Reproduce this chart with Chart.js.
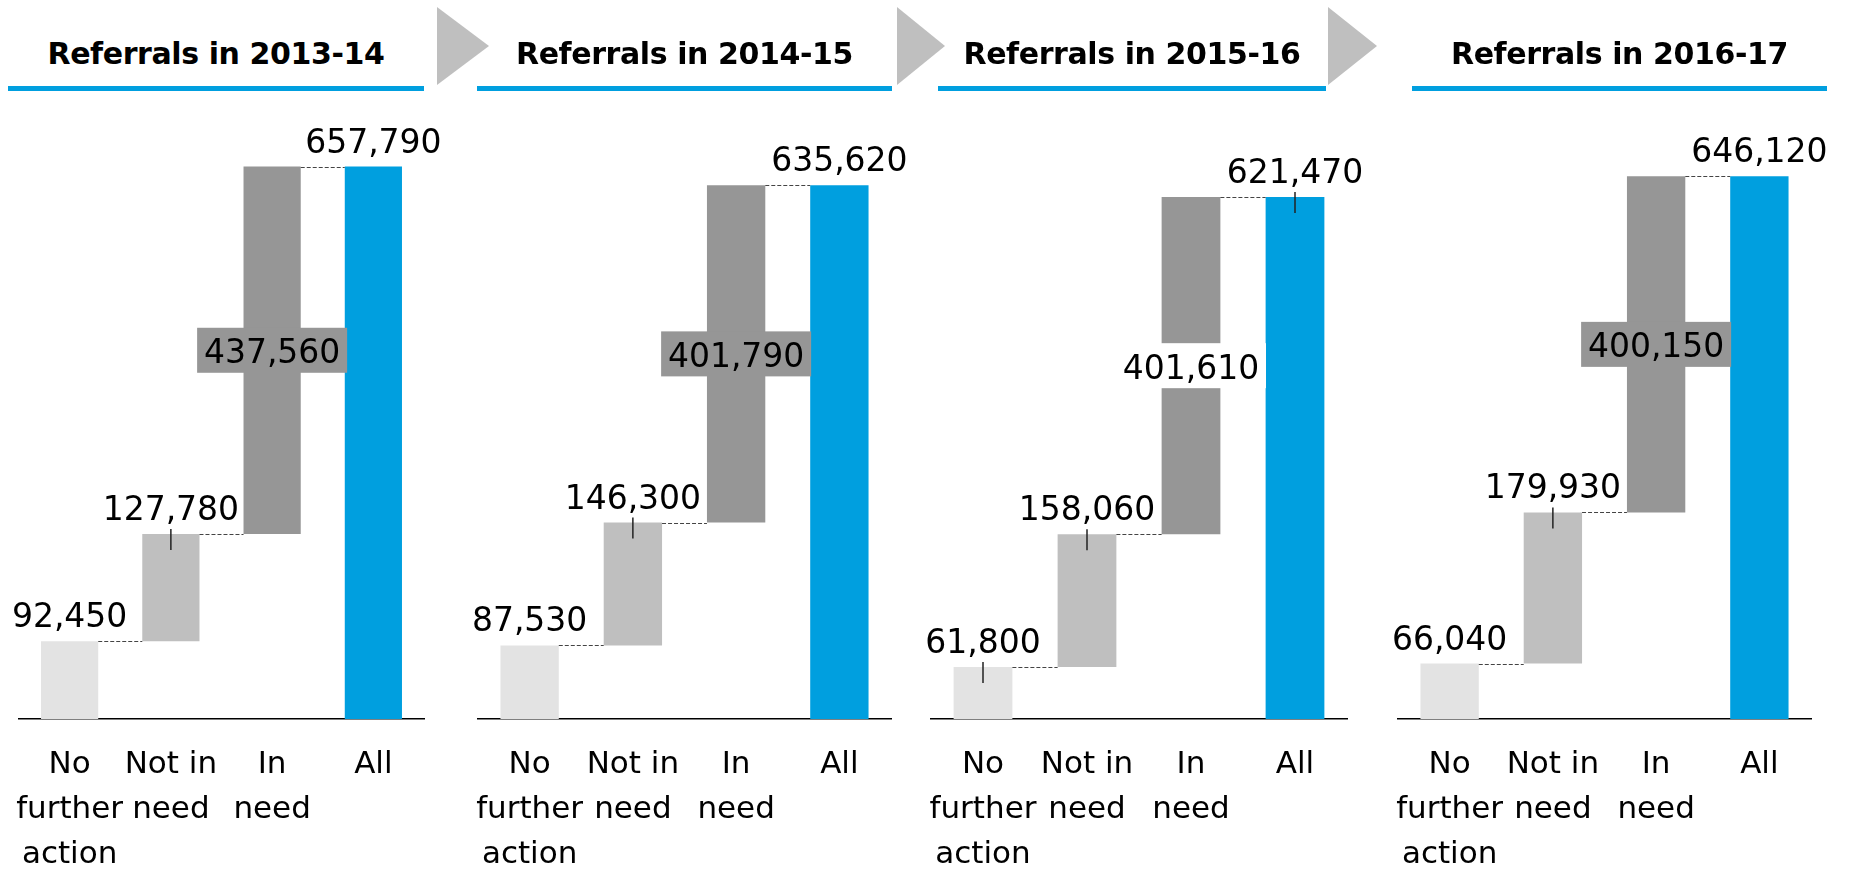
<!DOCTYPE html>
<html>
<head>
<meta charset="utf-8">
<script src="https://cdn.jsdelivr.net/npm/chart.js@4.4.1/dist/chart.umd.min.js"></script>
<style>
  html, body { margin: 0; padding: 0; background: #fff; }
  body { width: 1850px; height: 870px; position: relative; overflow: hidden; font-family: "DejaVu Sans", sans-serif; }
  canvas { position: absolute; left: 0; top: 0; }
  .head { position: absolute; top: 37px; text-align: center; font-weight: bold; font-size: 30px; line-height: 34px; letter-spacing: -0.4px; color: #000; white-space: nowrap; }
  .rule { position: absolute; top: 86px; height: 5px; background: #009fdf; }
  .arrow { position: absolute; top: 7px; width: 0; height: 0; border-top: 39.5px solid transparent; border-bottom: 39.5px solid transparent; border-left-style: solid; border-left-color: #bfbfbf; }
</style>
</head>
<body>
<script>
// data
const years = ["2013-14", "2014-15", "2015-16", "2016-17"];
const categories = [["No", "further", "action"], ["Not in", "need"], ["In", "need"], "All"];
const noFurtherAction = [92450, 87530, 61800, 66040];
const notInNeed = [127780, 146300, 158060, 179930];
const inNeed = [437560, 401790, 401610, 400150];
const allReferrals = [657790, 635620, 621470, 646120];

// layout of the four panels
const panels = [
  { left: 19, right: 424, ruleL: 8, ruleR: 424, boxColor: "#969696", leaders: [false, true, false, false] },
  { left: 478, right: 891, ruleL: 477, ruleR: 892, boxColor: "#969696", leaders: [false, true, false, false] },
  { left: 931, right: 1347, ruleL: 938, ruleR: 1326, boxColor: "#ffffff", leaders: [true, true, false, true] },
  { left: 1398, right: 1811, ruleL: 1412, ruleR: 1827, boxColor: "#969696", leaders: [false, true, false, false] },
];
const arrows = [{ x: 437, w: 52 }, { x: 897, w: 48 }, { x: 1328, w: 49 }];
const barColors = ["#e3e3e3", "#bfbfbf", "#969696", "#009fdf"];

const W = 1850, H = 870;

const waterfallMarks = {
  id: "waterfallMarks",
  afterDatasetsDraw(chart, args, opts) {
    const ctx = chart.ctx;
    const bars = chart.getDatasetMeta(0).data;
    const values = chart.data.datasets[0].data;
    ctx.save();

    // dashed connectors between steps
    ctx.strokeStyle = "#444";
    ctx.lineWidth = 1;
    ctx.setLineDash([4, 2]);
    for (let i = 0; i < bars.length - 1; i++) {
      const a = bars[i].getProps(["x", "y", "width"], true);
      const b = bars[i + 1].getProps(["x", "width"], true);
      const yy = Math.round(a.y) + 0.5;
      ctx.beginPath();
      ctx.moveTo(a.x + a.width / 2, yy);
      ctx.lineTo(b.x - b.width / 2, yy);
      ctx.stroke();
    }
    ctx.setLineDash([]);

    ctx.font = '33px "DejaVu Sans"';
    ctx.textAlign = "center";
    ctx.textBaseline = "alphabetic";
    bars.forEach((bar, i) => {
      const p = bar.getProps(["x", "y", "base", "width"], true);
      const text = (values[i][1] - values[i][0]).toLocaleString("en-US");
      const top = Math.min(p.y, p.base);
      const bottom = Math.max(p.y, p.base);
      if (i === 2) {
        const cy = (top + bottom) / 2;
        ctx.fillStyle = opts.boxColor;
        ctx.fillRect(p.x - 75, cy - 22.5, 150, 45);
        ctx.fillStyle = "#000";
        ctx.fillText(text, p.x, cy + 13);
      } else {
        ctx.fillStyle = "#000";
        ctx.fillText(text, p.x, top - 14);
        if (opts.leaders[i]) {
          ctx.strokeStyle = "#222";
          ctx.lineWidth = 1.5;
          ctx.beginPath();
          ctx.moveTo(p.x, top - 5);
          ctx.lineTo(p.x, top + 16);
          ctx.stroke();
        }
      }
    });
    ctx.restore();
  }
};

panels.forEach((panel, k) => {
  // header
  const head = document.createElement("div");
  head.className = "head";
  head.style.left = panel.ruleL + "px";
  head.style.width = (panel.ruleR - panel.ruleL) + "px";
  head.textContent = "Referrals in " + years[k];
  document.body.appendChild(head);
  const rule = document.createElement("div");
  rule.className = "rule";
  rule.style.left = panel.ruleL + "px";
  rule.style.width = (panel.ruleR - panel.ruleL) + "px";
  document.body.appendChild(rule);

  const canvas = document.createElement("canvas");
  canvas.width = W;
  canvas.height = H;
  document.body.appendChild(canvas);

  const a = noFurtherAction[k];
  const b = a + notInNeed[k];
  const c = b + inNeed[k];
  new Chart(canvas, {
    type: "bar",
    data: {
      labels: categories,
      datasets: [{
        data: [[0, a], [a, b], [b, c], [0, allReferrals[k]]],
        backgroundColor: barColors,
        borderWidth: 0,
        categoryPercentage: 1,
        barPercentage: 0.565,
      }],
    },
    options: {
      responsive: false,
      animation: false,
      events: [],
      layout: { padding: { left: panel.left, right: W - panel.right, top: 100, bottom: 0 } },
      plugins: {
        legend: { display: false },
        tooltip: { enabled: false },
        waterfallMarks: { boxColor: panel.boxColor, leaders: panel.leaders },
      },
      scales: {
        x: {
          grid: { display: false, drawTicks: false },
          border: { display: true, color: "#000", width: 1.5 },
          ticks: {
            color: "#000",
            font: { family: "DejaVu Sans", size: 31, lineHeight: 1.44 },
            padding: 24,
            maxRotation: 0,
            autoSkip: false,
          },
          afterFit: (scale) => {
            scale.height = 151;
            scale.paddingLeft = 0;
            scale.paddingRight = 0;
          },
        },
        y: { display: false, min: 0, max: 737000 },
      },
    },
    plugins: [waterfallMarks],
  });
});

arrows.forEach((ar) => {
  const el = document.createElement("div");
  el.className = "arrow";
  el.style.left = ar.x + "px";
  el.style.borderLeftWidth = ar.w + "px";
  document.body.appendChild(el);
});
</script>
</body>
</html>
